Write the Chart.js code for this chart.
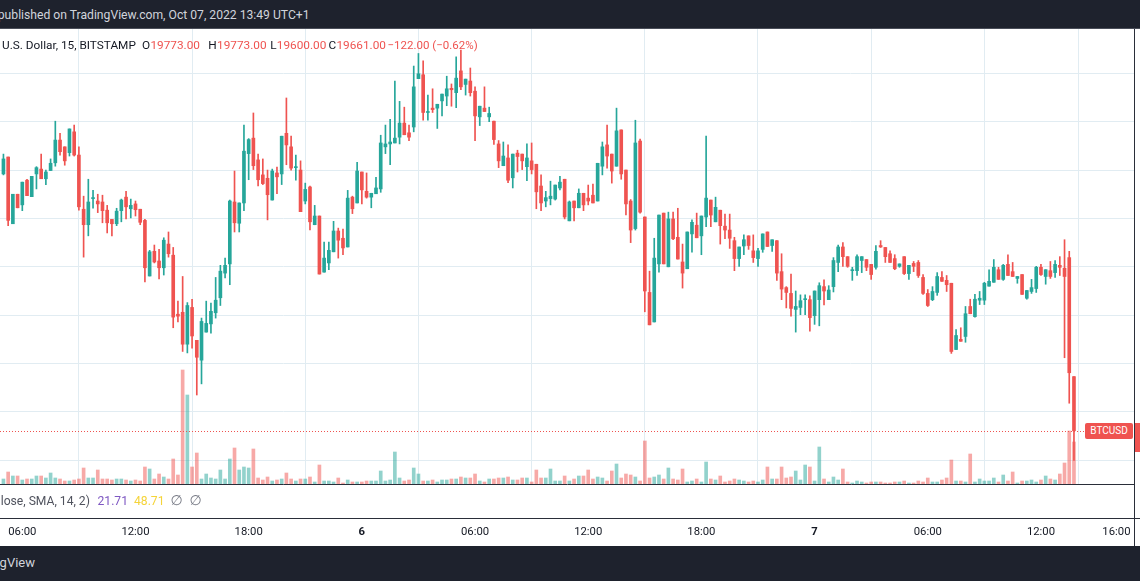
<!DOCTYPE html>
<html>
<head>
<meta charset="utf-8">
<script src="https://cdn.jsdelivr.net/npm/chart.js@4.4.1/dist/chart.umd.min.js"></script>
<style>
html,body{margin:0;padding:0;width:1140px;height:581px;overflow:hidden;background:#fff;font-family:Roboto,"DejaVu Sans",sans-serif;}
.abs{position:absolute;white-space:nowrap;line-height:16px;}
#top{position:absolute;left:0;top:0;width:1140px;height:28px;background:#1e222d;}
#topline{position:absolute;left:0;top:28px;width:1140px;height:1px;background:#4a4e59;}
#wrap{position:absolute;left:0;top:29px;width:1134px;height:517px;}
#vline{position:absolute;left:1134px;top:29px;width:1px;height:517px;background:#2a2e39;}
#paneline{position:absolute;left:0;top:518px;width:1140px;height:1px;background:#2a2e39;}
#foot{position:absolute;left:0;top:546px;width:1140px;height:35px;background:#1e222d;}
#lbl{position:absolute;left:1085px;top:423px;width:48px;height:16px;background:#ef5350;border-radius:2px;color:#fff;font-size:10px;line-height:16px;text-align:center;}
#axlbl{position:absolute;left:1135px;top:423px;width:5px;height:29px;background:#ef5350;}
</style>
</head>
<body>
<div id="top"></div>
<div id="topline"></div>
<div id="pub" class="abs" style="top:7px;color:#d1d4dc;"><span id="pubp">p</span><span id="pubr">ublished on TradingView.com, Oct 07, 2022 13:49 UTC+1</span></div>

<div id="wrap"><canvas id="c"></canvas></div>

<div class="abs" id="h0" style="left:2px;top:37px;color:#131722;">U.S. Dollar, 15, BITSTAMP</div>
<div class="abs hv hl" data-v="hvO" style="top:37px;color:#131722;">O</div>
<div class="abs hv" id="hvO" style="left:150.4px;top:37px;color:#ef5350;">19773.00</div>
<div class="abs hv hl" data-v="hvH" style="top:37px;color:#131722;">H</div>
<div class="abs hv" id="hvH" style="left:217px;top:37px;color:#ef5350;">19773.00</div>
<div class="abs hv hl" data-v="hvL" style="top:37px;color:#131722;">L</div>
<div class="abs hv" id="hvL" style="left:276.8px;top:37px;color:#ef5350;">19600.00</div>
<div class="abs hv hl" data-v="hvC" style="top:37px;color:#131722;">C</div>
<div class="abs hv" id="hvC" style="left:336.4px;top:37px;color:#ef5350;">19661.00</div>
<div class="abs" id="hchg" style="left:387.5px;top:37px;color:#ef5350;">−122.00 (−0.62%)</div>

<div id="paneline"></div>
<div id="vline"></div>
<div class="abs ind" id="i0" style="left:0.7px;top:493px;color:#50535e;">lose, SMA, 14, 2)</div>
<div class="abs ind" style="left:97.5px;top:493px;color:#7e57c2;">21.71</div>
<div class="abs ind" style="left:134px;top:493px;color:#f5d43a;">48.71</div>
<div class="abs" style="left:170.5px;top:492px;color:#787b86;font-size:14px;">∅</div>
<div class="abs" style="left:189.5px;top:492px;color:#787b86;font-size:14px;">∅</div>

<div id="lbl">BTCUSD</div>
<div id="axlbl"></div>

<div id="foot"></div>
<div id="logo" class="abs" style="right:1105px;top:555px;color:#d1d4dc;font-size:13px;">TradingView</div>

<script>
// ---- data: BTC/USD 15-minute candles, Bitstamp, Oct 5 05:00 -> Oct 7 13:45 (UTC+1) ----
const firstCandle = '2022-10-05 05:00';
const intervalMin = 15;

const opens = [
20192,20227,20089,20150,20128,20179,20145,20192,20202,20182,
20199,20215,20262,20248,20236,20279,20231,20119,20087,20141,
20136,20134,20117,20098,20089,20116,20144,20120,20130,20119,
20096,19981,20032,20012,19998,20047,20024,19902,19906,19840,
19916,19848,19807,19865,19882,19905,19936,19987,20006,20134,
20090,20132,20234,20266,20221,20190,20183,20138,20194,20192,
20276,20248,20205,20200,20136,20165,20087,20105,19989,20008,
20031,20074,20059,20041,20144,20132,20196,20156,20144,20151,
20161,20248,20254,20256,20268,20297,20277,20289,20389,20397,
20319,20328,20328,20343,20353,20369,20360,20405,20377,20384,
20363,20310,20328,20310,20301,20254,20209,20225,20184,20235,
20233,20207,20219,20212,20167,20136,20141,20140,20163,20181,
20095,20136,20122,20152,20142,20148,20136,20208,20252,20233,
20208,20283,20200,20136,20079,20260,20103,19947,19886,20006,
20111,20000,20099,20061,20010,19996,20068,20086,20064,20103,
20138,20093,20117,20084,20076,20054,20017,20043,20064,20033,
20017,20036,20072,20044,20054,19990,19957,19945,19912,19916,
19932,19932,19899,19932,19959,19932,19959,20009,20041,20021,
19992,19992,20013,20015,20005,19999,20044,20040,20027,20017,
20001,20021,19986,20007,20009,19978,19945,19932,19947,19978,
19972,19966,19829,19850,19856,19918,19897,19931,19931,19960,
19968,19994,19974,20005,19990,19976,19984,19935,19949,19955,
19999,19980,19992,19988,20003,19997,20019,19773];

const highs = [
20233,20227,20150,20150,20175,20181,20187,20207,20233,20200,
20223,20301,20276,20248,20285,20293,20248,20146,20181,20158,
20150,20148,20127,20098,20121,20140,20156,20140,20136,20119,
20098,20034,20045,20036,20060,20072,20040,19929,19980,19926,
19933,19848,19894,19929,19925,19978,20003,20018,20138,20198,
20132,20293,20265,20318,20233,20223,20200,20202,20206,20270,
20349,20270,20231,20219,20173,20167,20127,20105,20051,20051,
20094,20080,20078,20158,20146,20216,20196,20194,20152,20185,
20272,20293,20305,20384,20342,20330,20293,20415,20441,20426,
20355,20368,20336,20357,20394,20378,20434,20448,20388,20411,
20372,20332,20372,20330,20301,20261,20258,20252,20233,20241,
20233,20254,20256,20212,20190,20156,20177,20169,20187,20181,
20136,20136,20161,20152,20169,20171,20214,20258,20293,20233,
20328,20283,20200,20139,20303,20264,20103,19991,20059,20107,
20111,20113,20113,20121,20047,20072,20097,20111,20105,20270,
20138,20144,20117,20109,20109,20061,20041,20066,20064,20066,
20038,20068,20072,20056,20054,20027,19959,19985,19950,19942,
19942,19940,19950,19967,19973,19961,20019,20045,20050,20021,
19999,20025,20021,20015,20005,20044,20054,20040,20033,20025,
20006,20021,20003,20011,20013,19984,19953,19959,19988,19990,
19982,19966,19870,19874,19918,19933,19943,19949,19968,19994,
20015,19999,20005,20025,20009,19980,19984,19951,19974,20001,
20005,19994,20011,20013,20021,20056,20032,19773];

const lows = [
20190,20085,20089,20122,20116,20147,20145,20161,20182,20170,
20199,20208,20231,20210,20229,20229,20117,20020,20064,20121,
20112,20091,20070,20064,20085,20093,20099,20101,20105,20087,
19969,19981,20008,19975,19983,20020,19874,19886,19825,19822,
19832,19735,19758,19865,19863,19894,19920,19977,19963,20072,
20072,20116,20180,20201,20167,20170,20097,20138,20151,20170,
20211,20200,20179,20114,20130,20076,20087,19985,19989,19994,
20031,20018,20025,20041,20110,20132,20130,20142,20122,20151,
20154,20234,20211,20256,20254,20273,20261,20279,20389,20303,
20303,20319,20286,20312,20333,20332,20329,20366,20355,20353,
20261,20292,20321,20300,20253,20205,20209,20174,20163,20196,
20201,20178,20192,20120,20116,20124,20128,20138,20159,20099,
20095,20095,20122,20116,20128,20132,20136,20190,20204,20173,
20208,20181,20107,20050,20076,20111,19907,19880,19886,19989,
20006,20000,20056,20016,19956,19996,20030,20060,20025,20083,
20083,20093,20047,20058,20038,19992,20001,20025,20036,20009,
20001,20030,20042,20032,19972,19932,19915,19898,19865,19901,
19901,19867,19881,19878,19921,19932,19948,19990,20001,19999,
19972,19982,19988,19992,19974,19995,20040,20009,20009,19994,
19999,19984,19974,19990,19978,19943,19918,19930,19941,19970,
19949,19821,19829,19846,19844,19903,19896,19922,19922,19960,
19968,19974,19972,19982,19980,19966,19943,19933,19945,19947,
19982,19964,19976,19978,19982,19812,19718,19600];

const closes = [
20223,20096,20150,20122,20175,20147,20187,20205,20182,20196,
20214,20262,20238,20219,20285,20231,20124,20087,20134,20142,
20130,20116,20091,20089,20115,20138,20124,20127,20118,20092,
19998,20031,20010,19998,20055,20027,19896,19898,19840,19920,
19857,19813,19887,19883,19908,19931,19991,20003,20136,20091,
20132,20239,20263,20209,20180,20172,20149,20198,20186,20270,
20252,20204,20206,20114,20160,20093,20105,19985,20018,20034,
20074,20055,20039,20142,20120,20198,20159,20144,20152,20163,
20256,20254,20258,20266,20297,20273,20268,20372,20399,20319,
20321,20325,20336,20357,20368,20366,20390,20372,20388,20360,
20312,20332,20321,20317,20263,20219,20229,20179,20233,20228,
20219,20225,20201,20155,20132,20143,20146,20169,20175,20103,
20134,20122,20152,20128,20136,20132,20214,20248,20229,20198,
20281,20192,20130,20076,20256,20113,19950,19880,20018,20107,
20006,20099,20058,20016,19987,20072,20092,20060,20105,20142,
20107,20123,20085,20076,20059,20017,20041,20056,20044,20019,
20033,20068,20042,20056,19987,19954,19947,19914,19918,19930,
19934,19895,19950,19961,19950,19952,20013,20041,20021,20001,
19994,20021,20021,19999,19984,20032,20041,20021,20009,19996,
20006,19986,20003,20001,19982,19945,19920,19949,19980,19970,
19963,19825,19858,19846,19903,19903,19933,19935,19966,19970,
19999,19974,20003,19982,19980,19980,19943,19951,19957,19999,
19984,19994,19980,20005,19999,19980,19781,19661];

// volume (relative units)
const volume = [
5,12,8,8,4,5,5,8,8,6,
11,6,5,3,3,4,5,16,6,6,
14,5,5,4,5,5,4,3,4,3,
17,15,5,10,7,5,25,9,114,89,
17,31,5,10,6,5,14,5,25,36,
14,17,16,35,6,4,7,3,4,5,
11,5,3,5,5,7,2,19,3,3,
2,6,1,4,2,2,2,3,3,3,
13,3,4,32,6,3,4,16,10,3,
3,4,2,4,4,5,5,7,6,6,
10,3,2,5,5,6,6,7,4,4,
6,6,2,14,6,6,15,3,3,8,
3,5,8,8,14,5,7,6,3,13,
20,6,10,9,7,3,43,6,7,9,
5,16,5,4,15,2,3,5,2,22,
5,4,8,2,3,5,4,3,2,3,
2,4,17,5,5,17,6,7,13,4,
19,17,3,37,5,2,7,4,15,2,
1,3,2,1,2,2,2,1,1,2,
2,3,1,1,3,2,6,2,2,4,
6,24,3,3,2,30,2,5,3,3,
6,2,9,3,12,1,3,3,4,2,
4,8,5,4,10,21,53,42];

// time-axis ticks (candle index from the first candle) and their labels
const tickIndex = [4,28,52,76,100,124,148,172,196,220,236];
const tickText  = ['06:00','12:00','18:00','6','06:00','12:00','18:00','7','06:00','12:00','16:00'];
const dayTicks  = ['6','7'];
// horizontal price grid levels
const priceGrid = [19600,19700,19800,19900,20000,20100,20200,20300,20400];
const lastClose = 19661;

// ---- text fitting (layout only) ----
function fitW(el, w){ el.style.fontSize='20px'; const m=el.getBoundingClientRect().width; const fs=20*w/m; el.style.fontSize=fs+'px'; return fs; }
(function(){
  const pr=document.getElementById('pubr'), pp=document.getElementById('pubp'), pub=document.getElementById('pub');
  const fs=fitW(pr, 305.3); pub.style.fontSize=fs+'px'; pr.style.fontSize='';
  pub.style.left=(4.6-pp.getBoundingClientRect().width)+'px';
  fitW(document.getElementById('h0'),134);
  const vs=fitW(document.getElementById('hvO'),49.6);
  document.querySelectorAll('.hv').forEach(e=>e.style.fontSize=vs+'px');
  document.querySelectorAll('.hl').forEach(e=>{
    const v=document.getElementById(e.dataset.v);
    const vl=parseFloat(v.style.left);
    e.style.left=(vl-e.getBoundingClientRect().width-0.3)+'px';
  });
  fitW(document.getElementById('hchg'),90.2);
  const i0=document.getElementById('i0'); const is=fitW(i0,89.3);
  document.querySelectorAll('.ind').forEach(e=>e.style.fontSize=is+'px');
})();

// ---- chart ----
const GREEN='#26a69a', RED='#ef5350';
const up = closes.map((c,i)=>c>=opens[i]);
const candleColor = up.map(u=>u?GREEN:RED);
const volColor = up.map(u=>u?'rgba(38,166,154,0.5)':'rgba(239,83,80,0.5)');

const xMin=-0.7294, xMax=239.73;
const yMin=19551.0, yMax=20491.6;

const lastLine={id:'lastLine',afterDatasetsDraw(c){
  const ctx=c.ctx; const y=Math.round(c.scales.y.getPixelForValue(lastClose))+0.5;
  ctx.save(); ctx.strokeStyle=RED; ctx.lineWidth=1; ctx.setLineDash([1,2]);
  ctx.beginPath(); ctx.moveTo(c.chartArea.left,y); ctx.lineTo(c.chartArea.right,y); ctx.stroke(); ctx.restore();
  document.getElementById('lbl').style.top=(29+y-0.5-8)+'px';
  document.getElementById('axlbl').style.top=(29+y-0.5-8)+'px';
}};

new Chart(document.getElementById('c'),{
  type:'bar',
  data:{datasets:[
    {label:'Volume',yAxisID:'yv',data:volume.map((v,i)=>({x:i,y:v})),backgroundColor:volColor,barThickness:3,grouped:false,order:3,borderWidth:0},
    {label:'Wick',yAxisID:'y',data:lows.map((l,i)=>({x:i,y:[l,highs[i]]})),backgroundColor:candleColor,barThickness:1,grouped:false,order:2,borderWidth:0},
    {label:'Body',yAxisID:'y',data:opens.map((o,i)=>({x:i,y:[o,closes[i]]})),backgroundColor:candleColor,barThickness:3,grouped:false,order:1,borderWidth:0,minBarLength:1}
  ]},
  options:{
    responsive:true,maintainAspectRatio:false,animation:false,devicePixelRatio:1,
    layout:{padding:0},
    plugins:{legend:{display:false},tooltip:{enabled:false}},
    scales:{
      x:{type:'linear',min:xMin,max:xMax,offset:false,
        grid:{color:'#e1ecf2',tickLength:38,tickColor:'rgba(0,0,0,0)',drawTicks:true},
        border:{display:true,color:'#2a2e39',width:1},
        ticks:{autoSkip:false,maxRotation:0,padding:3,color:'#131722',
          font:(ctx)=>({family:'Roboto',size:11.3,weight:(ctx.tick&&dayTicks.includes(tickText[ctx.index]))?'bold':'normal'}),
          callback:(v,i)=>tickText[i]},
        afterBuildTicks:s=>{s.ticks=tickIndex.map(v=>({value:v}));},
        afterFit:s=>{s.height=62;}
      },
      y:{type:'linear',position:'right',min:yMin,max:yMax,
        grid:{color:'#e1ecf2',drawTicks:false},border:{display:false},ticks:{display:false},
        afterBuildTicks:s=>{s.ticks=priceGrid.map(v=>({value:v}));},
        afterFit:s=>{s.width=0;}
      },
      yv:{type:'linear',display:false,min:0,max:455}
    }
  },
  plugins:[lastLine]
});
</script>
</body>
</html>
